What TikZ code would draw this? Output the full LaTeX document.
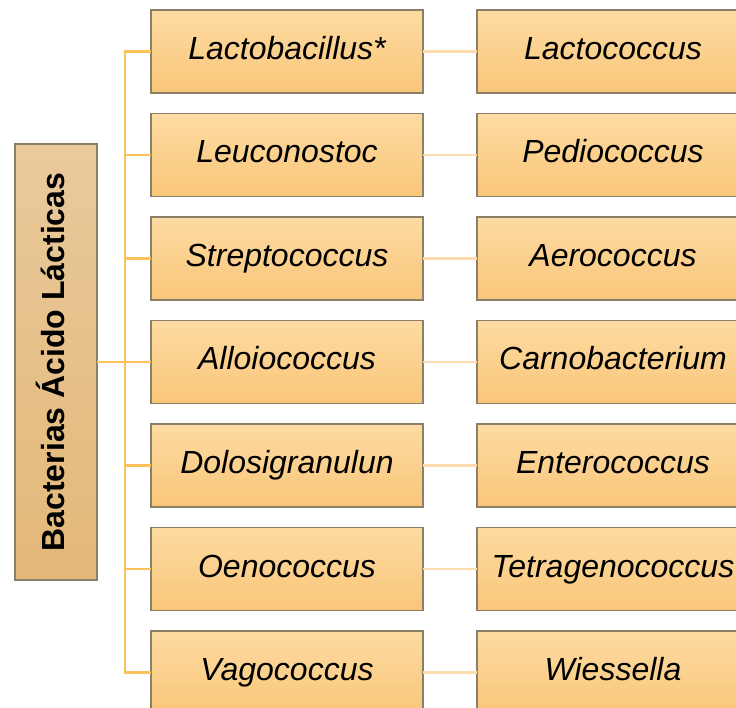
\documentclass[tikz,border=0pt]{standalone}
\usepackage{fontspec}
\setmainfont{Liberation Sans}
\usetikzlibrary{positioning}
\definecolor{boxtop}{HTML}{FDDBA2}
\definecolor{boxbot}{HTML}{F9C679}
\definecolor{roottop}{HTML}{E9CA9C}
\definecolor{rootbot}{HTML}{E3B878}
\definecolor{boxline}{HTML}{8C7F68}
\definecolor{trunkcol}{HTML}{FBC25C}
\definecolor{linkcol}{HTML}{FDDCB0}
\tikzset{
  genus/.style={draw=boxline,line width=1.2pt,top color=boxtop,bottom color=boxbot,
    minimum width=272pt,minimum height=83pt,inner sep=0pt,outer sep=0pt,
    text height=23pt,text depth=7pt,
    font=\fontsize{32}{38}\selectfont\itshape},
  rootbox/.style={draw=boxline,line width=1.2pt,top color=roottop,bottom color=rootbot,
    rotate=90,minimum width=436pt,minimum height=82pt,inner sep=0pt,outer sep=0pt,
    text height=23pt,text depth=7pt,
    font=\fontsize{32}{38}\selectfont\bfseries},
  trunk/.style={draw=trunkcol,line width=2.6pt},
  link/.style={draw=linkcol,line width=2.6pt}
}
\begin{document}
\begin{tikzpicture}[x=1pt,y=1pt,node distance=20.5pt and 54pt]
  \clip (0,0) rectangle (736,-708);
  % left column
  \node[genus] (lacto) at (287,-51.5) {Lactobacillus*};
  \node[genus,below=of lacto] (leuco) {Leuconostoc};
  \node[genus,below=of leuco] (strep) {Streptococcus};
  \node[genus,below=of strep] (allo) {Alloiococcus};
  \node[genus,below=of allo] (dolo) {Dolosigranulun};
  \node[genus,below=of dolo] (oeno) {Oenococcus};
  \node[genus,below=of oeno] (vago) {Vagococcus};
  % right column
  \node[genus,right=of lacto] (lactoc) {Lactococcus};
  \node[genus,right=of leuco] (pedio) {Pediococcus};
  \node[genus,right=of strep] (aero) {Aerococcus};
  \node[genus,right=of allo] (carno) {Carnobacterium};
  \node[genus,right=of dolo] (entero) {Enterococcus};
  \node[genus,right=of oeno] (tetra) {Tetragenococcus};
  \node[genus,right=of vago] (wies) {Wiessella};
  % root
  \node[rootbox] (bal) at (56,-362) {Bacterias Ácido Lácticas};
  \coordinate (hub) at (125,-362);
  % connectors
  \draw[trunk] (bal.south) -- (hub);
  \draw[trunk] (lacto.west) -- (hub |- lacto) -- (hub |- vago) -- (vago.west);
  \foreach \g in {leuco,strep,allo,dolo,oeno}
    \draw[trunk] (hub |- \g) -- (\g.west);
  \draw[link] (lacto) -- (lactoc);
  \draw[link] (leuco) -- (pedio);
  \draw[link] (strep) -- (aero);
  \draw[link] (allo) -- (carno);
  \draw[link] (dolo) -- (entero);
  \draw[link] (oeno) -- (tetra);
  \draw[link] (vago) -- (wies);
\end{tikzpicture}
\end{document}
